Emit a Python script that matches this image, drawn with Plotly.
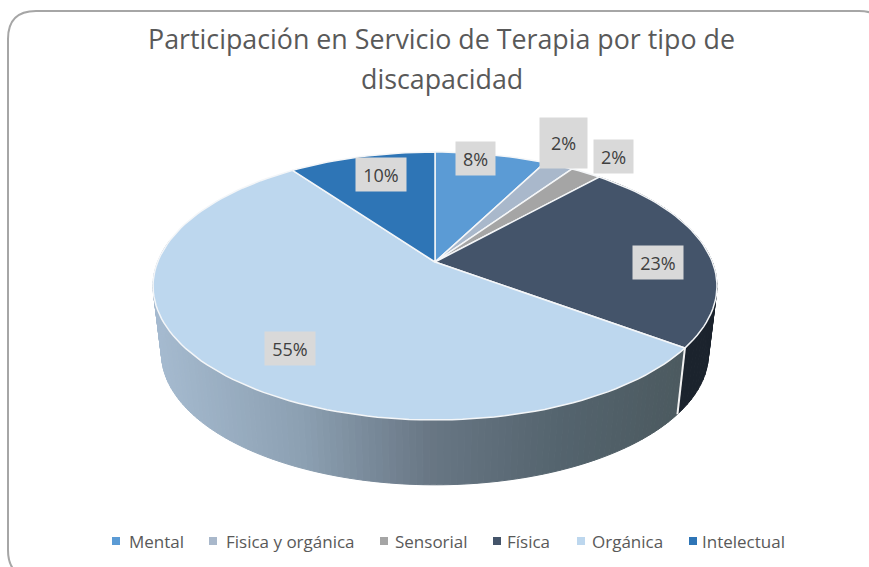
import math
import plotly.graph_objects as go

categories = ["Mental", "Fisica y orgánica", "Sensorial", "Física", "Orgánica", "Intelectual"]
values = [7.6, 2.0, 2.1, 23.4, 54.9, 10.0]
colors = ["#5B9BD5", "#A9B8CB", "#A5A5A5", "#44546A", "#BDD7EE", "#2E75B6"]
title_lines = ["Participación en Servicio de Terapia por tipo de", "discapacidad"]

# Projection of the tilted pie onto the page (pixels)
X0, Y0, A, B, K = 435.0, 262.0, 129.7, 277.4, 0.179
LOW_Y0, LOW_SX, LOW_SY = 330.0, 0.97, 0.98

label_boxes = [(475, 158, 37, 31), (563, 143, 45, 48), (613, 156, 37, 31),
               (658, 262, 48, 31), (290, 348, 48, 31), (381, 174, 48, 31)]
legend_marker_x = [116, 213, 384, 497, 581, 693]
legend_text_x = [127, 224, 393, 505, 590, 700]
LEGEND_Y = 541


def rim(p):
    t = 2 * math.pi * p / 100.0
    u, v = math.sin(t), math.cos(t)
    d = 1 + K * v
    return X0 + B * u / d, Y0 - A * v / d


def low(p):
    x, y = rim(p)
    return X0 + (x - X0) * LOW_SX, LOW_Y0 + (y - Y0) * LOW_SY


def lerp_color(c1, c2, f):
    return "rgb(%d,%d,%d)" % tuple(round(a + (b - a) * f) for a, b in zip(c1, c2))


def side_color(x):
    stops = [(155, (165, 186, 207)), (300, (140, 160, 178)), (430, (104, 118, 132)), (560, (84, 100, 110)), (680, (76, 90, 96))]
    for (x1, c1), (x2, c2) in zip(stops, stops[1:]):
        if x <= x2:
            return lerp_color(c1, c2, max(0, (x - x1) / (x2 - x1)))
    return lerp_color(stops[-1][1], stops[-1][1], 0)


fig = go.Figure()

starts = [sum(values[:i]) for i in range(len(values))]
ends = [sum(values[:i + 1]) for i in range(len(values))]


def add_poly(xs, ys, fill, line, width):
    fig.add_trace(go.Scatter(x=xs, y=ys, mode="lines", fill="toself", fillcolor=fill,
                             line=dict(color=line, width=width), hoverinfo="skip", showlegend=False))


def add_wall(s, e, n, color_fn):
    for i in range(n):
        p1 = s + (e - s) * i / n
        p2 = s + (e - s) * (i + 1) / n
        a, b, c, d = rim(p1), rim(p2), low(p2), low(p1)
        col = color_fn((a[0] + b[0]) / 2)
        add_poly([a[0], b[0], c[0], d[0], a[0]], [a[1], b[1], c[1], d[1], a[1]], col, col, 1)


# Side wall: dark Física piece
add_wall(starts[3], ends[3], 40, lambda x: "#1B232D")
# Side wall: Orgánica piece with a left-right shading in strips
add_wall(starts[4], starts[4] + values[4] * 0.78, 130, side_color)

# White seam between the two wall pieces
a, b = rim(starts[4]), low(starts[4])
fig.add_trace(go.Scatter(x=[a[0], b[0]], y=[a[1], b[1]], mode="lines", line=dict(color="#F2F2F2", width=2),
                         hoverinfo="skip", showlegend=False))

# Top face
for st, en, col in zip(starts, ends, colors):
    n = max(4, int((en - st) * 2))
    pts = [rim(st + (en - st) * i / n) for i in range(n + 1)]
    xs = [X0] + [p[0] for p in pts] + [X0]
    ys = [Y0] + [p[1] for p in pts] + [Y0]
    add_poly(xs, ys, col, "#F4F6F8", 1.5)

# Legend swatches and names
for name, col, mx in zip(categories, colors, legend_marker_x):
    fig.add_trace(go.Scatter(x=[mx], y=[LEGEND_Y], mode="markers", name=name, showlegend=False, hoverinfo="name",
                             marker=dict(symbol="square", size=8, color=col)))

annotations = []
for name, tx in zip(categories, legend_text_x):
    annotations.append(dict(x=tx, y=LEGEND_Y, xref="x", yref="y", text=name, showarrow=False, xanchor="left",
                            yanchor="middle", font=dict(family="Open Sans", size=17, color="#595959")))

# Data labels
total = sum(values)
for v, (cx, cy, w, h) in zip(values, label_boxes):
    annotations.append(dict(x=cx, y=cy, xref="x", yref="y", text="%d%%" % round(v / total * 100),
                            showarrow=False, bgcolor="#D9D9D9", width=w, height=h, align="center", valign="middle",
                            font=dict(family="Open Sans", size=18, color="#404040")))

# Second title line
annotations.append(dict(x=442, y=78, xref="x", yref="y", text=title_lines[1], showarrow=False,
                        xanchor="center", yanchor="middle",
                        font=dict(family="Open Sans", size=26.8, color="#595959")))

# Chart frame
R = 28
L_, T_, R_, B_ = 8, 11, 887, 578
frame = (f"M {L_} {T_ + R} Q {L_} {T_} {L_ + R} {T_} L {R_ - R} {T_} Q {R_} {T_} {R_} {T_ + R} "
         f"L {R_} {B_ - R} Q {R_} {B_} {R_ - R} {B_} L {L_ + R} {B_} Q {L_} {B_} {L_} {B_ - R} Z")

fig.update_layout(
    width=869, height=567, autosize=False,
    margin=dict(l=0, r=0, t=0, b=0),
    paper_bgcolor="white", plot_bgcolor="white",
    showlegend=False,
    xaxis=dict(range=[0, 869], visible=False, fixedrange=True, domain=[0, 1]),
    yaxis=dict(range=[567, 0], visible=False, fixedrange=True, domain=[0, 1]),
    title=dict(text=title_lines[0], x=441.5 / 869, xanchor="center", xref="paper", y=1 - 40 / 567, yanchor="middle",
               automargin=False, font=dict(family="Open Sans", size=26.8, color="#595959")),
    shapes=[dict(type="path", path=frame, xref="x", yref="y", line=dict(color="#A6A6A6", width=2), layer="below")],
    annotations=annotations,
)

fig.write_html("out.html", config={"displayModeBar": False},
               post_script="document.body.style.margin='0';document.documentElement.style.overflow='hidden';")
